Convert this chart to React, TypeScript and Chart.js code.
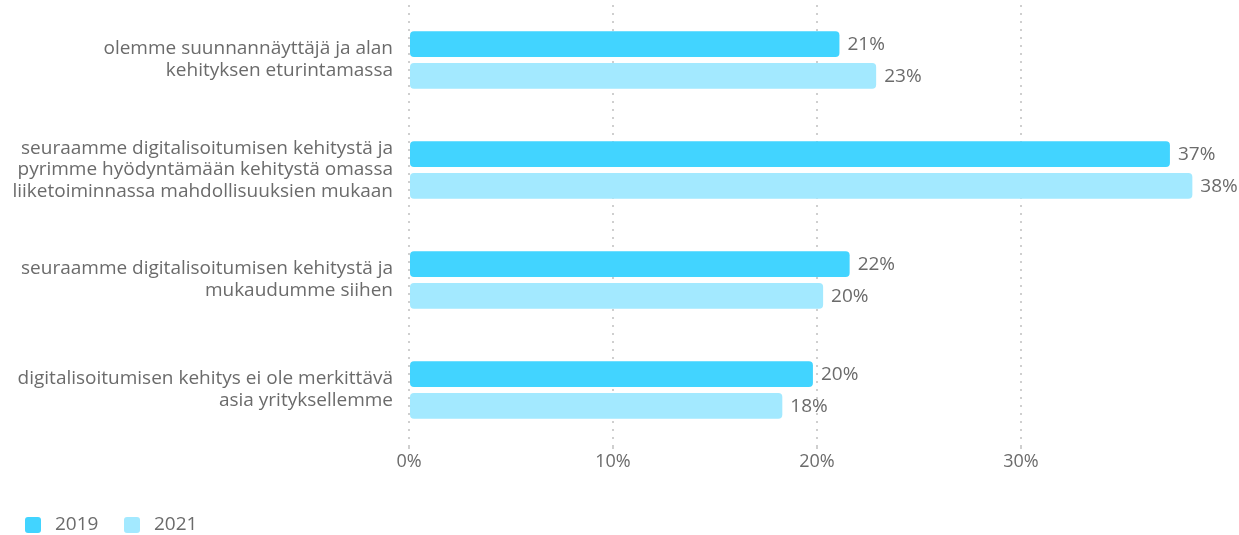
import React, { useEffect, useRef } from "react";
import { Chart, registerables } from "chart.js";

Chart.register(...registerables);

const categories: string[][] = [
  ["olemme suunnannäyttäjä ja alan", "kehityksen eturintamassa"],
  ["seuraamme digitalisoitumisen kehitystä ja", "pyrimme hyödyntämään kehitystä omassa", "liiketoiminnassa mahdollisuuksien mukaan"],
  ["seuraamme digitalisoitumisen kehitystä ja", "mukaudumme siihen"],
  ["digitalisoitumisen kehitys ei ole merkittävä", "asia yrityksellemme"],
];
const series2019: number[] = [21.1, 37.3, 21.6, 19.8];
const series2021: number[] = [22.9, 38.4, 20.3, 18.3];
const seriesLabels: string[] = ["2019", "2021"];
const tickValues: number[] = [0, 10, 20, 30];

const FONT = "'Open Sans', sans-serif";
const TEXT = "#6b6b6b";

const valueLabels = {
  id: "valueLabels",
  afterDatasetsDraw(chart: any) {
    const ctx = chart.ctx;
    ctx.save();
    ctx.font = `19px ${FONT}`;
    ctx.fillStyle = TEXT;
    ctx.textAlign = "left";
    ctx.textBaseline = "middle";
    chart.data.datasets.forEach((ds: any, i: number) => {
      const meta = chart.getDatasetMeta(i);
      meta.data.forEach((bar: any, j: number) => {
        ctx.fillText(`${Math.round(ds.data[j])}%`, bar.x + 8, bar.y + 1);
      });
    });
    ctx.restore();
  },
};

const customLegend = {
  id: "customLegend",
  afterDraw(chart: any) {
    const ctx = chart.ctx;
    ctx.save();
    ctx.font = `19px ${FONT}`;
    ctx.textBaseline = "middle";
    ctx.textAlign = "left";
    const xs = [25, 124];
    const cy = 525;
    chart.data.datasets.forEach((ds: any, i: number) => {
      const x = xs[i];
      ctx.fillStyle = ds.backgroundColor;
      ctx.beginPath();
      (ctx as any).roundRect(x, cy - 8, 16, 16, 3);
      ctx.fill();
      ctx.fillStyle = TEXT;
      ctx.fillText(ds.label, x + 30, cy);
    });
    ctx.restore();
  },
};

export default function App() {
  const ref = useRef<HTMLCanvasElement | null>(null);
  useEffect(() => {
    document.body.style.margin = "0";
    const chart = new Chart(ref.current!, {
      type: "bar",
      data: {
        labels: categories,
        datasets: [
          {
            label: seriesLabels[0],
            data: series2019,
            backgroundColor: "#42D4FF",
            borderRadius: 4,
            borderSkipped: false,
            categoryPercentage: 0.58,
            barPercentage: 0.81,
          },
          {
            label: seriesLabels[1],
            data: series2021,
            backgroundColor: "#A3E9FF",
            borderRadius: 4,
            borderSkipped: false,
            categoryPercentage: 0.58,
            barPercentage: 0.81,
          },
        ],
      },
      options: {
        indexAxis: "y",
        animation: false,
        responsive: false,
        maintainAspectRatio: false,
        layout: { padding: { top: 5, left: 0, right: 14, bottom: 0 } },
        plugins: {
          legend: { display: false },
          tooltip: { enabled: false },
        },
        scales: {
          x: {
            min: 0,
            max: 40,
            afterBuildTicks(scale: any) {
              scale.ticks = tickValues.map((v) => ({ value: v }));
            },
            afterFit(scale: any) {
              scale.height = 90;
              scale.paddingLeft = 0;
              scale.paddingRight = 0;
            },
            ticks: {
              color: TEXT,
              font: { family: FONT, size: 18 },
              padding: 2,
              callback: (v: any) => `${v}%`,
            },
            grid: {
              color: "#cfcfcf",
              lineWidth: 2,
              drawTicks: true,
              tickLength: 4,
            },
            border: { display: false, dash: [2, 6] },
          },
          y: {
            afterFit(scale: any) {
              scale.width = 409;
              scale.paddingTop = 0;
              scale.paddingBottom = 0;
            },
            ticks: {
              color: TEXT,
              font: { family: FONT, size: 19, lineHeight: 1.15 },
              padding: 8,
            },
            grid: { display: false },
            border: { display: false },
          },
        },
      },
      plugins: [valueLabels, customLegend],
    });
    return () => chart.destroy();
  }, []);
  return (
    <div style={{ width: 1239, height: 535 }}>
      <canvas ref={ref} width={1239} height={535} style={{ width: 1239, height: 535, display: "block" }} />
    </div>
  );
}
